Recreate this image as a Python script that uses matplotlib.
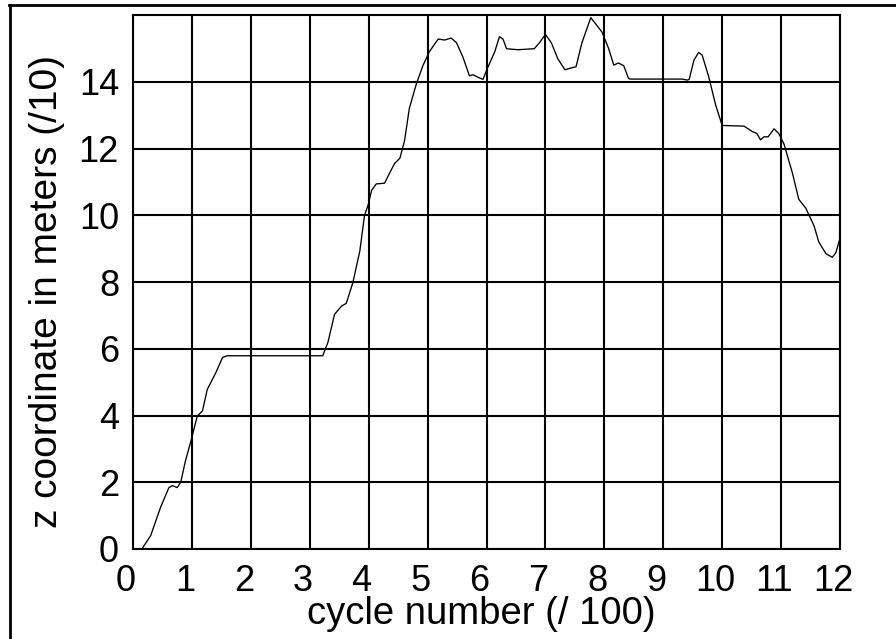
import matplotlib
matplotlib.use("Agg")
import matplotlib.pyplot as plt
from matplotlib.lines import Line2D
from matplotlib.transforms import ScaledTranslation

plt.rcParams['font.family'] = ['Liberation Sans', 'DejaVu Sans']

# cycle number (/100) and z coordinate (m /10)
cycle = [0.15, 0.30, 0.47, 0.61, 0.67, 0.75, 0.81, 0.89, 0.99, 1.09,
         1.18, 1.26, 1.40, 1.52, 1.60, 3.22, 3.31, 3.42, 3.54, 3.62,
         3.73, 3.85, 3.93, 3.99, 4.05, 4.13, 4.27, 4.36, 4.44, 4.53,
         4.61, 4.69, 4.81, 4.92, 5.03, 5.18, 5.29, 5.40, 5.49, 5.60,
         5.71, 5.77, 5.85, 5.94, 6.02, 6.14, 6.22, 6.28, 6.34, 6.53,
         6.81, 6.90, 7.00, 7.10, 7.21, 7.33, 7.45, 7.52, 7.62, 7.77,
         7.85, 7.96, 8.07, 8.16, 8.24, 8.33, 8.41, 8.44, 9.32, 9.41,
         9.44, 9.52, 9.60, 9.66, 9.77, 9.89, 10.00, 10.37, 10.51, 10.59,
         10.65, 10.71, 10.78, 10.88, 10.96, 11.05, 11.19, 11.30, 11.42, 11.56,
         11.64, 11.76, 11.87, 11.93, 12.00]
z_coord = [0.00, 0.40, 1.26, 1.84, 1.90, 1.84, 2.00, 2.64, 3.28, 3.98,
           4.14, 4.78, 5.26, 5.74, 5.79, 5.79, 6.20, 7.03, 7.28, 7.36,
           7.97, 8.93, 10.00, 10.30, 10.75, 10.94, 10.96, 11.28, 11.55, 11.71,
           12.24, 13.20, 13.94, 14.48, 14.90, 15.28, 15.25, 15.31, 15.17, 14.74,
           14.18, 14.21, 14.14, 14.07, 14.42, 14.90, 15.35, 15.28, 14.99, 14.96,
           14.99, 15.17, 15.42, 15.17, 14.69, 14.36, 14.42, 14.45, 15.17, 15.92,
           15.74, 15.49, 15.01, 14.50, 14.56, 14.48, 14.10, 14.08, 14.08, 14.05,
           14.07, 14.64, 14.88, 14.80, 14.16, 13.30, 12.69, 12.67, 12.51, 12.45,
           12.26, 12.35, 12.35, 12.59, 12.45, 12.13, 11.28, 10.48, 10.21, 9.68,
           9.20, 8.85, 8.74, 8.88, 9.31]

x_ticks = list(range(0, 13))
y_ticks = [0, 2, 4, 6, 8, 10, 12, 14]

W, H = 896, 639
fig = plt.figure(figsize=(W / 100, H / 100), dpi=100)
ax = fig.add_axes([133 / W, 1 - 549 / H, (840 - 133) / W, (549 - 15) / H])

ax.plot(cycle, z_coord, color='black', linewidth=0.95)

ax.set_xlim(0, 12)
ax.set_ylim(0, 16)
ax.set_xticks(x_ticks)
ax.set_yticks(y_ticks)
ax.grid(True, color='black', linewidth=1.5)
ax.set_axisbelow(True)
for sp in ax.spines.values():
    sp.set_linewidth(1.5)
ax.tick_params(axis='both', length=0, labelsize=26)
ax.tick_params(axis='x', pad=11)
ax.tick_params(axis='y', pad=10)

# x tick labels sit a little left of their grid lines
shift = ScaledTranslation(-7 / 100, 0, fig.dpi_scale_trans)
for lab in ax.get_xticklabels():
    lab.set_transform(lab.get_transform() + shift)

ax.set_xlabel('cycle number (/ 100)', fontsize=27.5, labelpad=-2)
ax.set_ylabel('z coordinate in meters (/10)', fontsize=28, labelpad=10)
ax.xaxis.label.set_x(0.5 - 5 / 707)
ax.yaxis.label.set_y(0.5 - 10 / 534)

# outer frame: top and left edges
fig.add_artist(Line2D([9 / W, 1.0], [1 - 4.5 / H, 1 - 4.5 / H],
                      transform=fig.transFigure, color='black', linewidth=2))
fig.add_artist(Line2D([10 / W, 10 / W], [0.0, 1 - 4.5 / H],
                      transform=fig.transFigure, color='black', linewidth=2))

fig.savefig('out.png', dpi=100)
